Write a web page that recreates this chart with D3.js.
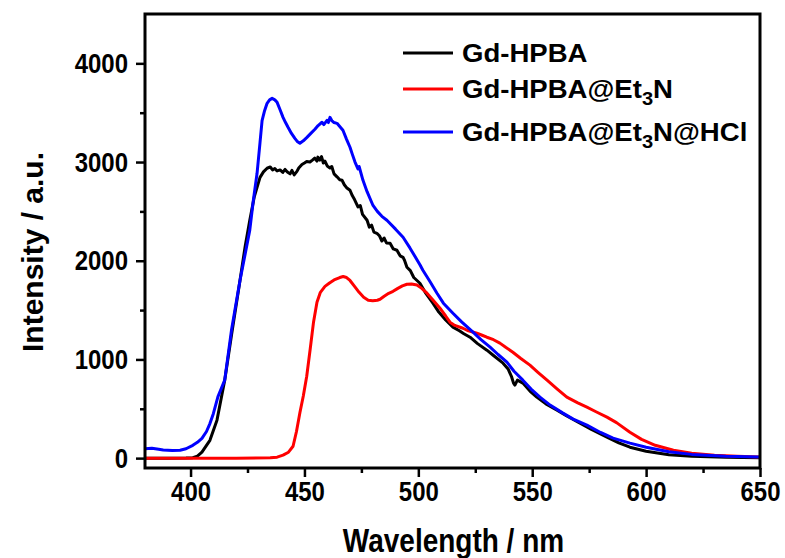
<!DOCTYPE html>
<html>
<head>
<meta charset="utf-8">
<title>Gd-HPBA emission</title>
<style>
  body { margin: 0; background: #fff; }
  text { font-family: "Liberation Sans", Arial, sans-serif; font-weight: bold; fill: #000; }
  .curve { fill: none; stroke-width: 3px; stroke-linejoin: round; }
  .tall { transform-box: fill-box; transform-origin: center; transform: scaleY(1.18); }
  .wide { transform-box: fill-box; transform-origin: left center; transform: scaleX(1.06); }
</style>
<script src="https://d3js.org/d3.v7.min.js"></script>
</head>
<body>
<svg id="chart" width="785" height="558"></svg>
<script>
// wavelength (nm), intensity (a.u.)
var gdHpba = [
  [380,0],[390,0],[398,2],[401,5],[403,20],[405,60],[408.5,180],[411.6,385],[415,790],[418,1250],
  [421.7,1800],[424,2150],[426,2410],[428,2650],[430.5,2845],[432,2900],[433.6,2937],[435,2950],
  [436,2920],[437,2935],[438,2910],[439.3,2920],[440.5,2895],[441.5,2925],[442.5,2900],[443.7,2880],
  [444.5,2915],[445.5,2870],[446.7,2905],[447.5,2940],[448.9,2975],[450,2990],[451,3005],[452.4,3000],
  [453.5,3020],[454.5,3040],[455.5,3010],[455.9,3050],[456.8,3020],[457.5,3055],[458.3,2990],[459,3010],
  [460,2960],[461.2,2940],[462,2955],[463,2880],[464.3,2850],[465.5,2820],[466.5,2815],[467.5,2770],
  [468.5,2740],[470,2714],[471,2660],[472,2620],[473.5,2545],[474.5,2560],[475.5,2470],[477.5,2410],
  [478.5,2340],[479.5,2360],[480.5,2290],[481.8,2278],[483,2250],[484,2200],[485,2230],[486,2180],
  [487.6,2177],[489,2120],[490.6,2106],[492,2050],[493.3,2035],[494,2000],[495,1934],[496.5,1900],
  [498,1830],[500.7,1772],[503,1680],[506.4,1570],[509,1480],[512,1400],[515.2,1327],[518,1290],
  [520,1260],[522.7,1225],[526,1160],[530.1,1094],[533,1040],[537.2,962],[539.5,900],[541,820],
  [541.8,760],[542.4,740],[543.5,790],[545.9,760],[549,680],[552,618],[556,550],[560.9,486],[565,430],
  [571,354],[576,290],[582.8,213],[588,155],[592.9,111],[600,70],[610,35],[620,18],[635,8],[650,5]
];

var gdHpbaEt3n = [
  [380,0],[420,0],[435,3],[438,10],[440.6,30],[443,60],[445,120],[446.5,270],[448,460],[449.5,630],
  [451,830],[452.5,1100],[454,1380],[455.5,1580],[457,1680],[459,1740],[461,1775],[463,1805],[465.5,1830],
  [467,1840],[468.5,1830],[470,1800],[472,1740],[474,1680],[476,1630],[478,1600],[480,1595],[482,1600],
  [483.2,1610],[485,1640],[487,1670],[488.9,1690],[491,1720],[493,1745],[495,1762],[497,1765],[499.4,1755],
  [501.5,1720],[503.8,1671],[506.5,1600],[509.5,1519],[512,1440],[513.9,1377],[516,1345],[519.6,1316],
  [522,1290],[525.7,1266],[528,1245],[530.1,1225],[533,1200],[535.8,1165],[538.5,1120],[541.5,1073],
  [545,1010],[549,942],[552.5,870],[556.5,790],[561,700],[565.2,618],[570,560],[574,516],[578,470],
  [582.8,415],[587,360],[592.9,263],[598,190],[604,130],[612,80],[620,50],[630,30],[640,20],[650,12]
];

var gdHpbaEt3nHcl = [
  [380,95],[383,100],[386,90],[388,82],[392,78],[395.4,80],[398,95],[401,130],[403,160],[405,200],
  [407,270],[408.5,350],[410,450],[412,620],[415,790],[418,1300],[421.7,1800],[424,2070],[426,2310],
  [427.5,2600],[429.2,2886],[430.5,3200],[431.4,3420],[432.5,3520],[433.6,3595],[434.7,3630],[435.8,3645],
  [437,3630],[438,3605],[439.3,3530],[440.6,3453],[441.7,3400],[442.8,3352],[444.3,3290],[445.8,3240],
  [447,3205],[448,3190],[449.5,3215],[451.1,3250],[452.8,3290],[454.6,3332],[456,3370],[457.7,3403],
  [458.5,3380],[459.9,3423],[460.5,3400],[461.2,3453],[462,3420],[463,3400],[464.3,3392],[465.5,3360],
  [466.9,3322],[468.5,3230],[470,3150],[471,3080],[472.2,3000],[473.5,2930],[474,2955],[475.7,2815],
  [477.5,2700],[480.1,2560],[482,2500],[484,2450],[486.2,2410],[490,2320],[493.3,2238],[496.3,2130],
  [500.7,1960],[502,1904],[505.1,1790],[508.2,1671],[511,1570],[515.2,1468],[519,1380],[524,1276],
  [527.5,1200],[531.5,1124],[535,1050],[538.9,972],[542,880],[545.9,790],[549.5,700],[553.4,618],
  [558,535],[563.5,456],[568,395],[574,334],[580,260],[585.5,203],[592.9,152],[600,110],[610,65],
  [620,38],[635,20],[650,12]
];

var seriesNames = ["Gd-HPBA", "Gd-HPBA@Et3N", "Gd-HPBA@Et3N@HCl"];
var seriesColors = ["#000000", "#ff0000", "#0000ff"];
var seriesData = [gdHpba, gdHpbaEt3n, gdHpbaEt3nHcl];

var xTicks = [400, 450, 500, 550, 600, 650];
var xMinor = [425, 475, 525, 575, 625];
var yTicks = [0, 1000, 2000, 3000, 4000];
var yMinor = [500, 1500, 2500, 3500];

var svg = d3.select("#chart");
var pLeft = 145, pRight = 760, pTop = 14, pBottom = 468;

var x = d3.scaleLinear().domain([380, 650]).range([pLeft, pRight]);
var y = d3.scaleLinear().domain([-100, 4500]).range([pBottom, pTop]);

// curves (drawn in order black, red, blue)
var line = d3.line().x(function(d) { return x(d[0]); }).y(function(d) { return y(d[1]); });
seriesData.forEach(function(s, i) {
    svg.append("path").attr("class", "curve")
        .attr("d", line(s))
        .attr("stroke", seriesColors[i]);
});

// axes
var gx = svg.append("g").attr("transform", "translate(0," + pBottom + ")")
    .call(d3.axisBottom(x).tickValues(xTicks).tickFormat(d3.format("d")).tickSize(9).tickPadding(5));
var gy = svg.append("g").attr("transform", "translate(" + pLeft + ",0)")
    .call(d3.axisLeft(y).tickValues(yTicks).tickFormat(d3.format("d")).tickSize(9).tickPadding(8));

svg.append("g").attr("transform", "translate(0," + pBottom + ")")
    .call(d3.axisBottom(x).tickValues(xMinor).tickSize(5).tickFormat(""));
svg.append("g").attr("transform", "translate(" + pLeft + ",0)")
    .call(d3.axisLeft(y).tickValues(yMinor).tickSize(5).tickFormat(""));

svg.selectAll(".domain").remove();
svg.selectAll(".tick line").attr("stroke", "#000").attr("stroke-width", 2.5);
svg.selectAll(".tick text")
    .attr("class", "tall")
    .style("font-family", "'Liberation Sans', Arial, sans-serif")
    .style("font-weight", "bold")
    .style("font-size", "24px")
    .attr("fill", "#000");

// frame
svg.append("rect")
    .attr("x", pLeft).attr("y", pTop)
    .attr("width", pRight - pLeft).attr("height", pBottom - pTop)
    .attr("fill", "none").attr("stroke", "#000").attr("stroke-width", 3);

// axis titles
svg.append("text")
    .attr("class", "tall")
    .attr("x", (pLeft + pRight) / 2 + 1).attr("y", 550)
    .attr("text-anchor", "middle")
    .style("font-size", "28px")
    .text("Wavelength / nm");

svg.append("g")
    .attr("transform", "translate(43,252) rotate(-90)")
    .append("text")
    .attr("text-anchor", "middle")
    .style("font-size", "30px")
    .text("Intensity / a.u.");

// legend
var legendY = [53, 89, 132];
seriesNames.forEach(function(name, i) {
    var ly = legendY[i];
    svg.append("line")
        .attr("x1", 403).attr("x2", 453)
        .attr("y1", ly).attr("y2", ly)
        .attr("stroke", seriesColors[i]).attr("stroke-width", 3);
    var t = svg.append("text")
        .attr("class", "wide")
        .attr("x", 462).attr("y", ly + 9)
        .style("font-size", "26px");
    var parts = name.split("Et3N");
    t.append("tspan").text(parts[0]);
    if (parts.length > 1) {
        t.append("tspan").text("Et");
        t.append("tspan").attr("dy", 7).style("font-size", "19px").text("3");
        t.append("tspan").attr("dy", -7).text("N" + parts[1]);
    }
});
</script>
</body>
</html>
